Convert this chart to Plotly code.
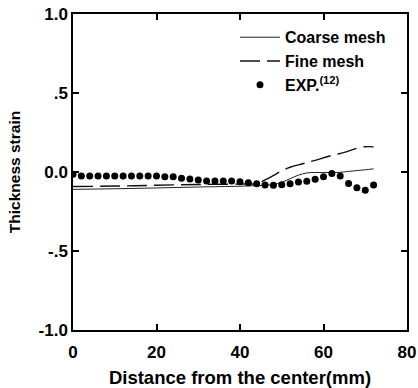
import plotly.graph_objects as go

# Experimental data (every 2 mm)
exp_x = [0, 2, 4, 6, 8, 10, 12, 14, 16, 18, 20, 22, 24, 26, 28, 30, 32, 34, 36,
         38, 40, 42, 44, 46, 48, 50, 52, 54, 56, 58, 60, 62, 64, 66, 68, 70, 72]
exp_y = [-0.015, -0.025, -0.025, -0.025, -0.025, -0.025, -0.025, -0.025, -0.025, -0.025,
         -0.025, -0.03, -0.03, -0.04, -0.045, -0.051, -0.057, -0.057, -0.057,
         -0.057, -0.061, -0.068, -0.074, -0.082, -0.084, -0.08, -0.074, -0.064,
         -0.058, -0.046, -0.03, -0.01, -0.025, -0.072, -0.1, -0.116, -0.082]

# Coarse mesh (thin solid)
coarse_x = [0, 10, 20, 30, 40, 44, 46, 48, 50, 52, 54, 56, 58, 60, 62, 64, 66, 68, 70, 72]
coarse_y = [-0.11, -0.106, -0.101, -0.095, -0.09, -0.086, -0.084, -0.078, -0.066, -0.042,
            -0.02, -0.006, -0.003, -0.003, -0.003, -0.002, 0.004, 0.009, 0.014, 0.02]

# Fine mesh (dashed)
fine_x = [0, 10, 20, 30, 40, 44, 46, 48, 50, 52, 55, 58, 62, 65, 68, 70, 72]
fine_y = [-0.092, -0.089, -0.084, -0.079, -0.076, -0.073, -0.05, -0.022, 0.008, 0.03,
          0.052, 0.074, 0.105, 0.124, 0.15, 0.16, 0.159]

x_ticks = [0, 20, 40, 60, 80]
y_ticks = [1.0, 0.5, 0.0, -0.5, -1.0]
y_labels = ["1.0", ".5", "0.0", "-.5", "-1.0"]

FONT = "Liberation Sans"

fig = go.Figure()
fig.add_trace(go.Scatter(x=coarse_x, y=coarse_y, mode="lines", name="<b>Coarse mesh</b>",
                         line=dict(color="#222", width=1), line_shape="spline"))
fig.add_trace(go.Scatter(x=fine_x, y=fine_y, mode="lines", name="<b>Fine mesh</b>",
                         line=dict(color="#111", width=1.4, dash="20px,7px"), line_shape="spline"))
fig.add_trace(go.Scatter(x=exp_x, y=exp_y, mode="markers", name="<b>EXP.<sup>(12)</sup></b>",
                         marker=dict(color="black", size=7)))

fig.update_layout(
    width=418, height=388,
    margin=dict(l=73, r=11, t=14, b=58),
    paper_bgcolor="white", plot_bgcolor="white",
    font=dict(family=FONT, size=15, color="black"),
    showlegend=True,
    legend=dict(x=0.485, y=0.98, xanchor="left", yanchor="top",
                bgcolor="rgba(0,0,0,0)", font=dict(family=FONT, size=16, color="black"),
                tracegroupgap=0, itemwidth=40),
)
fig.update_xaxes(range=[0, 80], tickvals=x_ticks, ticktext=[f"<b>{v}</b>" for v in x_ticks],
                 showgrid=False, zeroline=False, showline=True, linecolor="black", linewidth=1.5,
                 mirror="ticks", ticks="inside", ticklen=6, tickwidth=1.5, tickcolor="black",
                 automargin=False, ticklabelstandoff=6,
                 title=dict(text="<b>Distance from the center(mm)</b>", standoff=14,
                            font=dict(family=FONT, size=18.5)),
                 tickfont=dict(family=FONT, size=17))
fig.update_yaxes(range=[-1.0, 1.0], tickvals=y_ticks, ticktext=[f"<b>{t}</b>" for t in y_labels],
                 showgrid=False, zeroline=False, showline=True, linecolor="black", linewidth=1.5,
                 mirror="ticks", ticks="inside", ticklen=6, tickwidth=1.5, tickcolor="black",
                 automargin=False,
                 title=dict(text="<b>Thickness strain</b>", standoff=14,
                            font=dict(family=FONT, size=15.5)),
                 tickfont=dict(family=FONT, size=17))

fig.write_html("out.html")
